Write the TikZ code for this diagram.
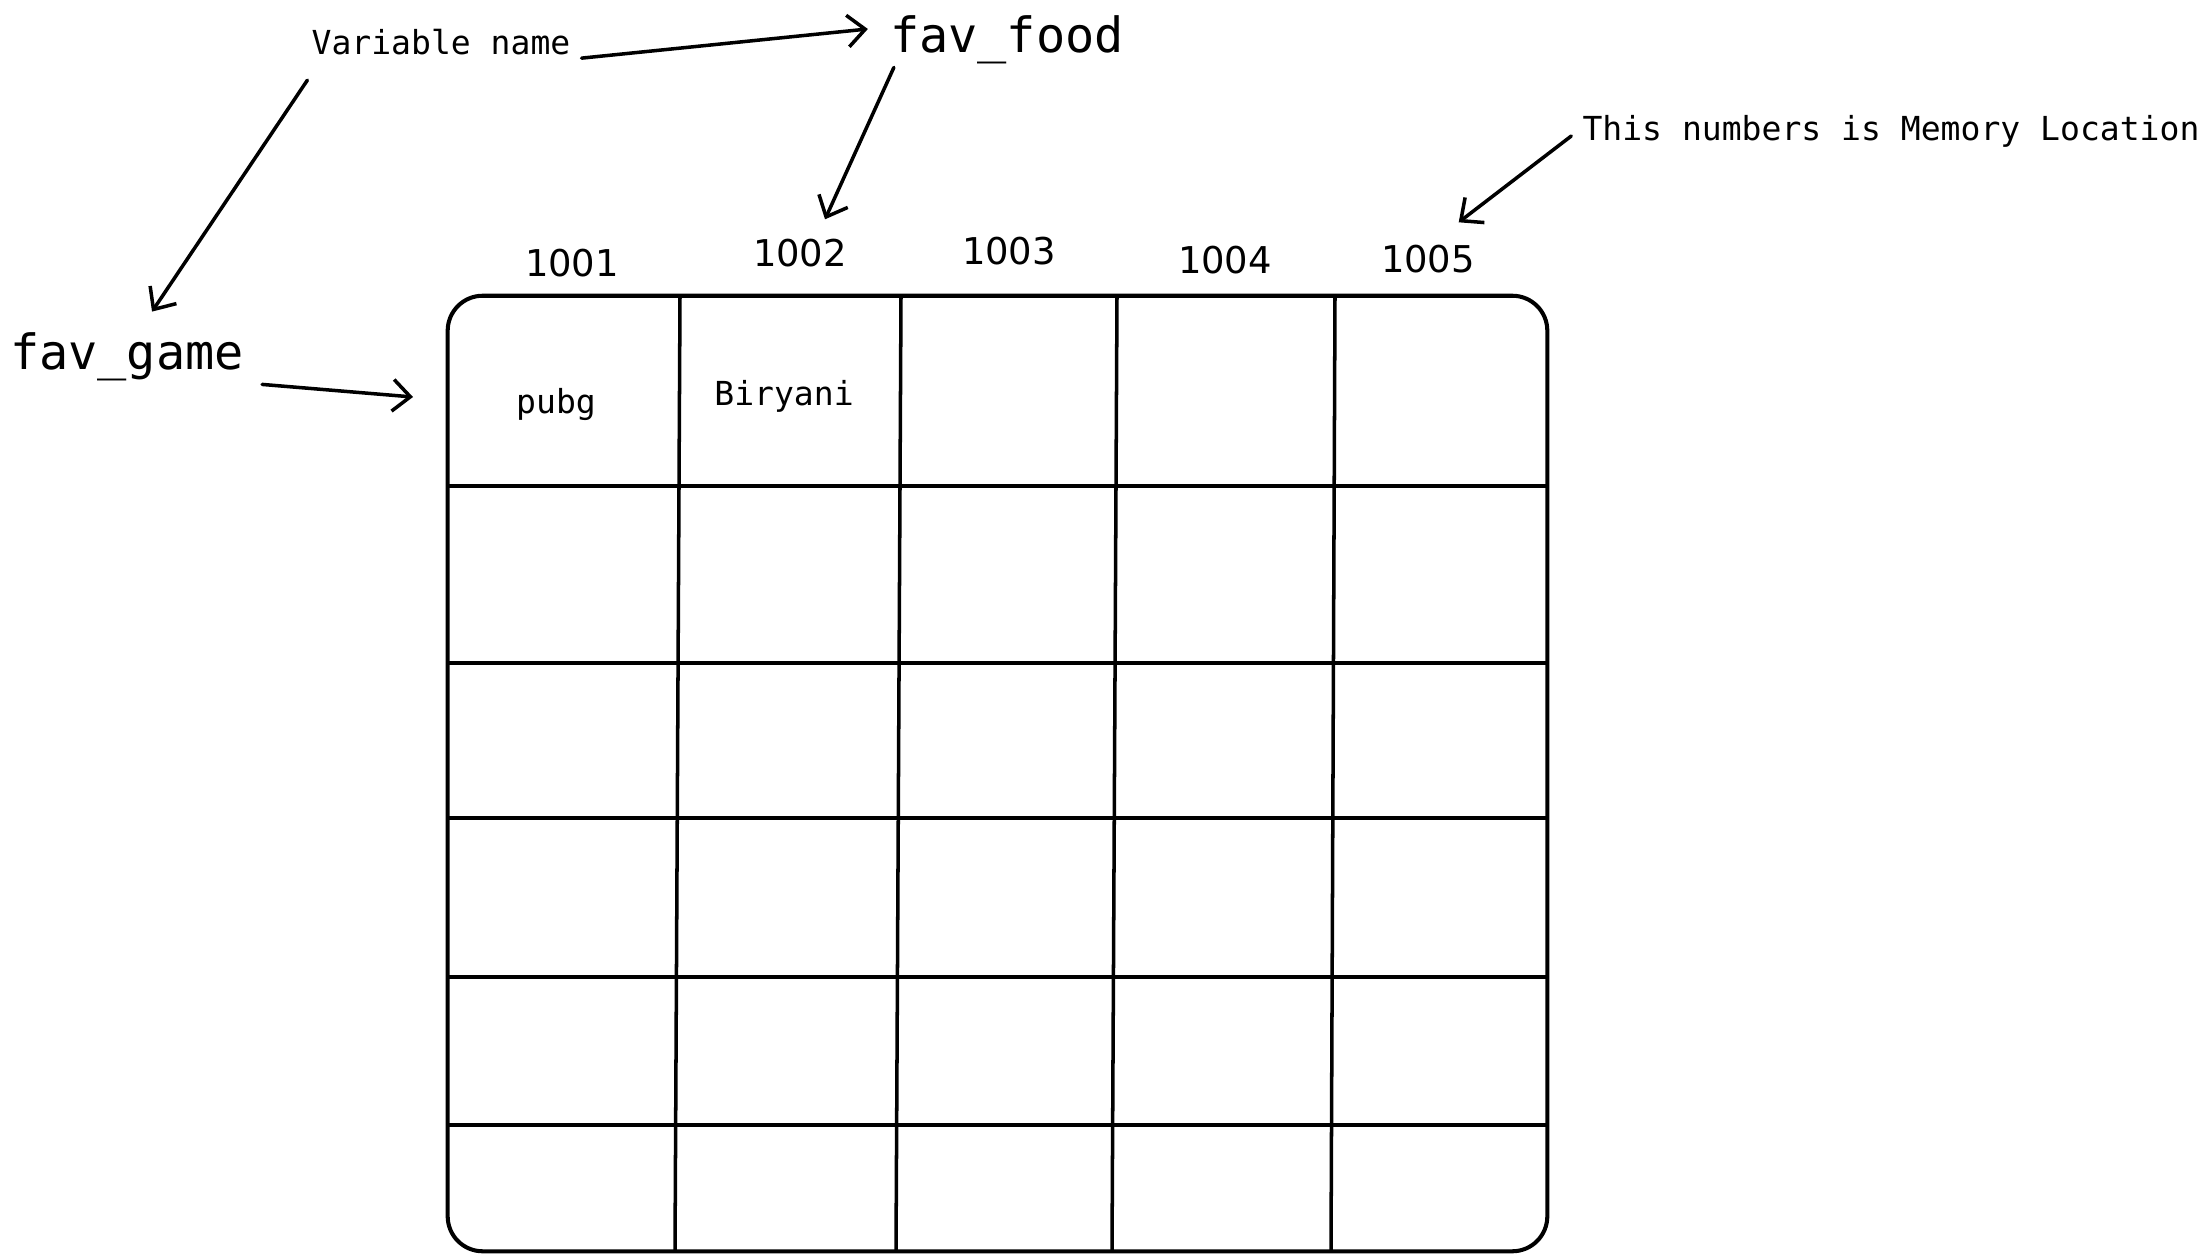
\documentclass[tikz,border=0pt]{standalone}
\usepackage{fontspec}
\newfontfamily\handmono{DejaVu Sans Mono}
\newfontfamily\handnum{DejaVu Sans}
\usetikzlibrary{arrows.meta, positioning, calc}

\begin{document}
\begin{tikzpicture}[x=0.01cm, y=-0.01cm,
  note/.style={font=\handmono\fontsize{9.4}{11}\selectfont, inner sep=3pt},
  var/.style={font=\handmono\fontsize{13.8}{16}\selectfont, inner sep=3pt},
  addr/.style={font=\handnum\fontsize{10.5}{12}\selectfont, inner sep=2pt},
  mem/.style={draw, line width=1.15pt, rounded corners=0.35cm, minimum width=10.99cm, minimum height=9.55cm, inner sep=0pt},
  gl/.style={line width=1pt},
  fl/.style={-{Straight Barb[length=5pt,width=9pt]}, line width=1pt, line cap=round}
]
  \useasboundingbox (0,0) rectangle (2208,1260);

  % memory block
  \node[mem] (grid) at (997.5,773.5) {};
  \foreach \y in {486,663,818,977,1125}
    \draw[gl] (448,\y) -- (1547,\y);
  \foreach \xt/\xb in {680/675, 901/896, 1117/1112, 1335/1331}
    \draw[gl] (\xt,296) -- (\xb,1251);

  % labels
  \node[note] (varname) at (441,42)  {Variable name};
  \node[var]  (food)    at (1007,40) {fav\_food};
  \node[var]  (game)    at (127,357) {fav\_game};
  \node[note] (memloc)  at (1891,131) {This numbers is Memory Location};

  % addresses
  \node[addr] (a1001) at (572,263)  {1001};
  \node[addr] (a1002) at (800,253)  {1002};
  \node[addr] (a1003) at (1009,251) {1003};
  \node[addr] (a1004) at (1225,260) {1004};
  \node[addr] (a1005) at (1428,259) {1005};

  % values
  \node[note] (pubg)    at (556,404) {pubg};
  \node[note] (biryani) at (784,396) {Biryani};

  \coordinate (gametip) at (413,397);

  \draw[fl] ([yshift=0.08cm]varname.south east) -- ([xshift=-0.11cm,yshift=0.11cm]food.west);
  \draw[fl] ([xshift=0.07cm,yshift=-0.14cm]varname.south west) -- ([xshift=0.25cm,yshift=0.1cm]game.north);
  \draw[fl] ([xshift=0.15cm,yshift=0.08cm]food.south west) -- ([xshift=0.25cm,yshift=0.12cm]a1002.north);
  \draw[fl] ([xshift=0.07cm,yshift=0.08cm]game.south east) -- (gametip);
  \draw[fl] ([yshift=-0.05cm]memloc.west) -- ([xshift=-0.24cm,yshift=0.15cm]a1005.north east);
\end{tikzpicture}
\end{document}
